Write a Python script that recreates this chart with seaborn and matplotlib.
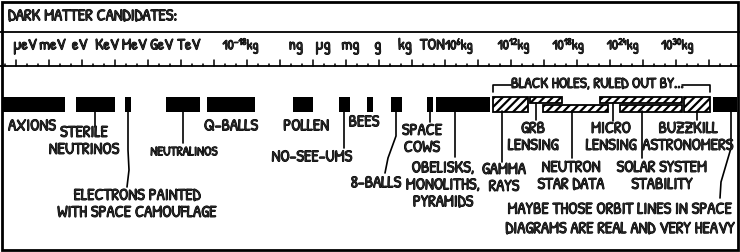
import numpy as np
import pandas as pd
import seaborn as sns
import matplotlib
matplotlib.use("Agg")
import matplotlib.pyplot as plt
import matplotlib.patheffects as pe
from matplotlib.patches import Rectangle

# ---------------- data (x = log10 of mass in kg) ----------------
tick_labels = ["μeV", "meV", "eV", "KeV", "MeV", "GeV", "TeV", "10$^{-18}$kg",
               "ng", "μg", "mg", "g", "kg", "TON", "10$^{6}$kg", "10$^{12}$kg",
               "10$^{18}$kg", "10$^{24}$kg", "10$^{30}$kg"]
tick_values = [-41.75, -38.75, -35.75, -32.75, -29.75, -26.75, -23.75, -18,
               -12, -9, -6, -3, 0, 3, 6, 12, 18, 24, 30]

candidates = ["Axions", "Sterile neutrinos", "Electrons painted", "Neutralinos",
              "Q-balls", "Pollen", "No-see-ums", "Bees", "8-balls", "Space cows",
              "Obelisks", "BH: gamma rays", "BH: GRB lensing", "BH: neutron star",
              "BH: microlensing", "BH: solar system", "BH: buzzkill", "Orbit lines"]
mass_low = [-44.3, -36.15, -30.8, -26.3, -21.8, -12.3, -7.25, -4.2, -1.55, 2.4,
            3.4, 9.7, 13.75, 15.15, 21.45, 23.65, 30.65, 33.85]
mass_high = [-37.4, -31.9, -30.1, -22.5, -16.5, -10.1, -6.05, -3.5, -0.35, 3.1,
             9.35, 13.5, 17.25, 22.3, 30.45, 30.45, 33.5, 36.5]
ruled_out = [False] * 11 + [True] * 6 + [False]
row = ["full"] * 12 + ["upper", "lower", "upper", "lower", "full", "full"]

df = pd.DataFrame({"name": candidates, "low": mass_low, "high": mass_high,
                   "ruled_out": ruled_out, "row": row})

# ---------------- style ----------------
sns.set_theme(style="white")
HAND = "Patrick Hand"
plt.rcParams["font.family"] = [HAND, "DejaVu Sans"]
plt.rcParams["mathtext.fontset"] = "custom"
plt.rcParams["mathtext.rm"] = HAND
plt.rcParams["mathtext.it"] = HAND
plt.rcParams["mathtext.bf"] = HAND
plt.rcParams["hatch.linewidth"] = 1.6
plt.rcParams["hatch.color"] = "black"
INK = [pe.withStroke(linewidth=0.7, foreground="black")]

W, H = 740, 252
fig = plt.figure(figsize=(W / 100, H / 100), dpi=100)
ax = fig.add_axes([0, 0, 1, 1])
PX0, PXS = 405.0, 9.1          # layout: pixel position of 1 kg, pixels per decade
X = lambda px: (px - PX0) / PXS
ax.set_xlim(X(0), X(W))
ax.set_ylim(H, 0)
ax.axis("off")

# frame and header lines
ax.add_patch(Rectangle((0.003, 0.006), 0.994, 0.988, transform=ax.transAxes,
                       fill=False, lw=2.0, ec="black"))
ax.plot([X(0), X(W)], [32, 32], color="black", lw=1.3)
ax.plot([X(0), X(W)], [66, 66], color="black", lw=1.3)
ax.text(X(8), 17, "DARK MATTER CANDIDATES:", ha="left", va="center", fontsize=12,
        path_effects=INK)

# ruler ticks (decorative scale marks)
for i, px in enumerate(np.arange(5, W, 11)):
    L = 6 if i % 3 == 1 else 2
    ax.plot([X(px), X(px)], [66, 66 - L], color="black", lw=1.1)

# axis labels
for lab, v in zip(tick_labels, tick_values):
    ax.text(v, 46, lab, ha="center", va="center",
            fontsize=10 if "$" in lab else 11.5, path_effects=INK)

# bars
ROWS = {"full": (97, 14.5), "upper": (97, 6), "lower": (105, 6.5)}
for _, r in df.iterrows():
    y0, h = ROWS[r["row"]]
    if r["ruled_out"]:
        ax.barh(y0, r["high"] - r["low"], left=r["low"], height=h, align="edge",
                color="white", edgecolor="black", linewidth=1.3, hatch="////")
    else:
        ax.barh(y0, r["high"] - r["low"], left=r["low"], height=h, align="edge",
                color="black", edgecolor="black", linewidth=0)

# black-hole bracket
bh = df[df["ruled_out"]]
bl, bh_r = bh["low"].min(), bh["high"].max()
ax.plot([bl, bl, X(511)], [92, 85, 85], color="black", lw=1.2)
ax.plot([X(682), bh_r, bh_r], [85, 85, 92], color="black", lw=1.2)
ax.text(X(597), 85, "BLACK HOLES, RULED OUT BY...", ha="center", va="center",
        fontsize=11, path_effects=INK)

# labels (layout in pixel units)
labels = [
    ("AXIONS", 32, 127, 12, 1.0),
    ("STERILE\nNEUTRINOS", 84, 142, 12, 1.0),
    ("ELECTRONS PAINTED\nWITH SPACE CAMOUFLAGE", 137, 205, 12, 1.0),
    ("NEUTRALINOS", 184, 153, 9.5, 1.0),
    ("Q-BALLS", 231, 127, 12, 1.0),
    ("POLLEN", 306, 127, 12, 1.0),
    ("BEES", 364, 123, 12, 1.0),
    ("NO-SEE-UMS", 312, 158, 12, 1.0),
    ("8-BALLS", 376, 184, 12, 1.0),
    ("SPACE\nCOWS", 422, 140, 12, 1.0),
    ("OBELISKS,\nMONOLITHS,\nPYRAMIDS", 443, 186, 12, 1.0),
    ("GAMMA\nRAYS", 504, 179, 12, 1.0),
    ("GRB\nLENSING", 533, 138, 12, 1.0),
    ("NEUTRON\nSTAR DATA", 571, 177, 12, 1.0),
    ("MICRO\nLENSING", 611, 138, 12, 1.0),
    ("SOLAR SYSTEM\nSTABILITY", 662, 177, 12, 1.0),
    ("BUZZKILL\nASTRONOMERS", 688, 138, 12, 1.0),
    ("MAYBE THOSE ORBIT LINES IN SPACE\nDIAGRAMS ARE REAL AND VERY HEAVY", 620, 220, 12, 1.2),
]
for txt, cx, cy, fs, ls in labels:
    ax.text(X(cx), cy, txt, ha="center", va="center", fontsize=fs,
            linespacing=ls, multialignment="center", path_effects=INK)

# leader lines (layout in pixel units)
leaders = [
    [(95, 111), (95, 127)],
    [(128, 111), (128, 150), (129, 170), (127, 187)],
    [(183, 111), (183, 143)],
    [(344, 111), (344, 148)],
    [(396, 111), (396, 136), (392, 147), (388, 158), (385, 173)],
    [(430, 111), (430, 122)],
    [(455, 111), (455, 157)],
    [(502, 111), (502, 162)],
    [(536, 103), (536, 120)],
    [(572, 111), (572, 158)],
    [(613, 103), (613, 121)],
    [(642, 111), (642, 158)],
    [(697, 111), (697, 120)],
    [(731, 111), (731, 148), (726, 165), (721, 182), (720, 198)],
]
for pts in leaders:
    xs = [X(p[0]) for p in pts]
    ys = [p[1] for p in pts]
    ax.plot(xs, ys, color="black", lw=1.2)

fig.savefig("out.png", dpi=100)
